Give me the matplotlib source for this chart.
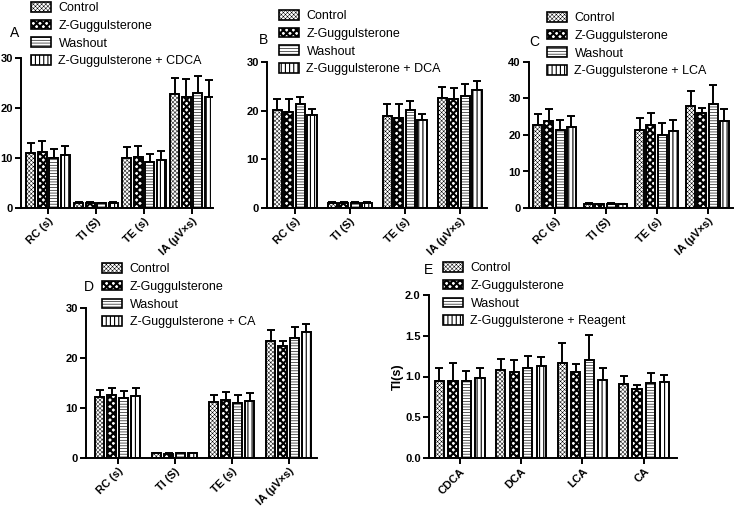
import matplotlib
matplotlib.use("Agg")
import matplotlib.pyplot as plt
import numpy as np

plt.rcParams['font.family'] = ['Liberation Sans', 'DejaVu Sans']

# categories
groups = ["RC (s)", "TI (S)", "TE (s)", "IA (μV×s)"]
groups_e = ["CDCA", "DCA", "LCA", "CA"]
base_series = ["Control", "Z-Guggulsterone", "Washout"]

# panel A (rows = series, cols = groups)
a_mean = [[11.0, 1.0, 10.0, 22.8], [11.1, 1.0, 10.1, 22.1],
          [10.0, 0.9, 9.1, 22.9], [10.5, 1.0, 9.5, 22.2]]
a_err = [[1.9, 0.1, 2.1, 3.2], [2.2, 0.1, 2.3, 3.7],
         [1.7, 0.1, 1.6, 3.4], [1.9, 0.1, 1.8, 3.3]]
# panel B
b_mean = [[20.1, 1.1, 19.0, 22.7], [19.7, 1.1, 18.5, 22.3],
          [21.3, 1.1, 20.1, 23.1], [19.2, 1.1, 18.1, 24.2]]
b_err = [[2.2, 0.1, 2.3, 2.2], [2.6, 0.1, 2.8, 2.4],
         [1.6, 0.1, 1.8, 2.4], [1.1, 0.1, 1.2, 1.8]]
# panel C
c_mean = [[22.7, 1.2, 21.5, 28.0], [23.8, 1.0, 22.8, 26.0],
          [21.3, 1.2, 20.1, 28.6], [22.1, 1.0, 21.1, 23.8]]
c_err = [[3.0, 0.2, 3.2, 4.0], [3.2, 0.1, 3.1, 1.5],
         [2.9, 0.2, 3.1, 5.0], [3.0, 0.1, 3.0, 3.3]]
# panel D
d_mean = [[12.3, 1.0, 11.3, 23.5], [12.6, 0.9, 11.7, 22.4],
          [12.0, 1.0, 11.0, 24.0], [12.4, 1.0, 11.4, 25.2]]
d_err = [[1.4, 0.1, 1.4, 2.1], [1.5, 0.1, 1.5, 1.0],
         [1.5, 0.1, 1.6, 2.3], [1.6, 0.1, 1.7, 1.6]]
# panel E (TI only)
e_mean = [[0.94, 1.08, 1.16, 0.91], [0.95, 1.05, 1.05, 0.85],
          [0.94, 1.11, 1.20, 0.92], [0.98, 1.13, 0.96, 0.93]]
e_err = [[0.17, 0.14, 0.25, 0.10], [0.21, 0.15, 0.10, 0.05],
         [0.13, 0.14, 0.31, 0.12], [0.12, 0.11, 0.15, 0.09]]

# hatch pattern and hatch line width per series
hatches = [("xxxxxxxx", 0.35), ("xxxxx", 1.5), ("------", 0.45), ("||||", 0.8)]


def draw_panel(ax, cats, means, errs, names, ymax, yticks, width, step, xlim):
    x = np.arange(len(cats))
    for i, (m, e) in enumerate(zip(means, errs)):
        pos = x + (i - 1.5) * step
        h, hlw = hatches[i]
        with plt.rc_context({'hatch.linewidth': hlw, 'hatch.color': 'black'}):
            bars = ax.bar(pos, m, width, color="white", edgecolor="black",
                          linewidth=1.4, hatch=h, label=names[i], zorder=2)
        for b in bars:
            try:
                b.set_hatch_linewidth(hlw)
            except AttributeError:
                pass
        ax.errorbar(pos, m, yerr=[np.zeros(len(e)), e], fmt="none",
                    ecolor="black", elinewidth=1.4, capsize=3, capthick=1.4,
                    zorder=1)
    ax.set_xlim(*xlim)
    ax.set_ylim(0, ymax)
    ax.set_yticks(yticks)
    ax.set_xticks(x)
    ax.set_xticklabels(cats, rotation=45, ha="right", rotation_mode="anchor",
                       fontweight="bold", fontsize=8)
    for t in ax.get_yticklabels():
        t.set_fontweight("bold")
        t.set_fontsize(8)
    ax.spines["top"].set_visible(False)
    ax.spines["right"].set_visible(False)
    ax.spines["left"].set_linewidth(1.4)
    ax.spines["bottom"].set_linewidth(1.4)
    ax.tick_params(width=1.4, length=4, pad=2)


fig = plt.figure(figsize=(7.5, 5.11), dpi=100)
W, H = 750.0, 511.0


def add_axes(left, top, right, bottom):
    return fig.add_axes([left / W, 1 - bottom / H, (right - left) / W, (bottom - top) / H])


def add_legend(ax, x, y):
    handles, labels = ax.get_legend_handles_labels()
    leg = fig.legend(handles, labels, loc="upper left", bbox_to_anchor=(x / W, 1 - y / H),
                     frameon=False, fontsize=9, handlelength=1.6, handleheight=0.8,
                     handletextpad=0.6, labelspacing=0.45, borderpad=0, borderaxespad=0)
    for p, (h, hlw) in zip(leg.get_patches(), hatches):
        p.set_linewidth(1.2)
        try:
            p.set_hatch_linewidth(hlw)
        except AttributeError:
            pass


ax_a = add_axes(21, 58, 213, 208)
draw_panel(ax_a, groups, a_mean, a_err, base_series + ["Z-Guggulsterone + CDCA"],
           30, [0, 10, 20, 30], 0.19, 0.24, (-0.56, 3.44))
add_legend(ax_a, 31, 2)
fig.text(10 / W, 1 - 33 / H, "A", fontsize=10, va="center")

ax_b = add_axes(267, 62, 487, 208)
draw_panel(ax_b, groups, b_mean, b_err, base_series + ["Z-Guggulsterone + DCA"],
           30, [0, 10, 20, 30], 0.17, 0.21, (-0.5, 3.5))
add_legend(ax_b, 279, 10)
fig.text(259 / W, 1 - 40 / H, "B", fontsize=10, va="center")

ax_c = add_axes(529, 62, 733, 208)
draw_panel(ax_c, groups, c_mean, c_err, base_series + ["Z-Guggulsterone + LCA"],
           40, [0, 10, 20, 30, 40], 0.18, 0.22, (-0.5, 3.5))
add_legend(ax_c, 547, 12)
fig.text(529 / W, 1 - 42 / H, "C", fontsize=10, va="center")

ax_d = add_axes(86, 308, 317, 458)
draw_panel(ax_d, groups, d_mean, d_err, base_series + ["Z-Guggulsterone + CA"],
           30, [0, 10, 20, 30], 0.16, 0.21, (-0.56, 3.5))
add_legend(ax_d, 102, 263)
fig.text(84 / W, 1 - 287 / H, "D", fontsize=10, va="center")

ax_e = add_axes(429, 295, 677, 458)
draw_panel(ax_e, groups_e, e_mean, e_err, base_series + ["Z-Guggulsterone + Reagent"],
           2.0, [0, 0.5, 1.0, 1.5, 2.0], 0.15, 0.22, (-0.5, 3.54))
ax_e.yaxis.set_major_formatter(matplotlib.ticker.FormatStrFormatter("%.1f"))
for t in ax_e.get_yticklabels():
    t.set_fontweight("bold")
ax_e.set_ylabel("TI(s)", fontsize=9, fontweight="bold", labelpad=1)
add_legend(ax_e, 443, 262)
fig.text(424 / W, 1 - 270 / H, "E", fontsize=10, va="center")

fig.savefig("out.png", dpi=100)
